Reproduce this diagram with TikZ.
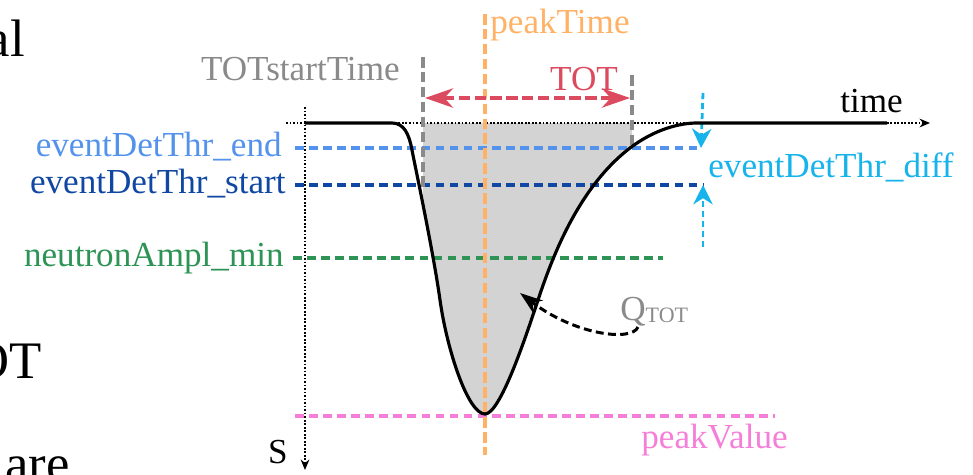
\documentclass[tikz,border=0pt]{standalone}
\usepackage{fontspec}
\setmainfont{Liberation Serif}
\usetikzlibrary{arrows.meta,positioning}

\definecolor{thrEndCol}{HTML}{5493EB}
\definecolor{thrStartCol}{HTML}{0F47A3}
\definecolor{amplCol}{HTML}{2E9455}
\definecolor{peakValCol}{HTML}{F57FD8}
\definecolor{peakTimeCol}{HTML}{FFB266}
\definecolor{totCol}{HTML}{DB4A5E}
\definecolor{markCol}{HTML}{8A8A8A}
\definecolor{diffCol}{HTML}{17B3EB}
\definecolor{areaCol}{HTML}{D3D3D3}

% the pulse, used for the area and for the line
\newcommand{\pulsepath}{(305,123) -- (392,123)
  .. controls (404,123) and (409,134) .. (412,150)
  .. controls (415,166) and (433,250) .. (440,300)
  .. controls (447,350) and (468,414) .. (485,414)
  .. controls (500,414) and (525,339) .. (537,303)
  .. controls (549,267) and (575,190) .. (630,148)
  .. controls (655,129) and (680,123) .. (697,123) -- (887,123)}

\begin{document}
\begin{tikzpicture}[x=0.02cm, y=-0.02cm,
    lbl/.style={font=\fontsize{20}{24}\selectfont, inner sep=0pt},
    bigtxt/.style={font=\fontsize{30}{36}\selectfont, inner sep=0pt},
    thr/.style={line width=1.9pt, dash pattern=on 5pt off 3pt},
    vmark/.style={line width=2pt, dash pattern=on 6pt off 2.5pt},
    axis/.style={line width=0.7pt, dash pattern=on 1pt off 1pt, -{Stealth[length=6pt, width=5pt, inset=2pt]}},
    pulse/.style={line width=1.8pt, line join=round},
    totarr/.style={totCol, line width=1.9pt, dash pattern=on 6.5pt off 2.5pt, {Stealth[length=16pt, width=11pt, inset=5pt]}-{Stealth[length=16pt, width=11pt, inset=5pt]}},
    diffarr/.style={diffCol, line width=1.6pt, dash pattern=on 3.5pt off 2.2pt, -{Stealth[length=11pt, width=11pt, inset=3.5pt]}},
    qarr/.style={line width=1.7pt, dash pattern=on 4.5pt off 2.5pt, -{Stealth[length=13pt, width=9pt, inset=4pt]}}]

    \useasboundingbox (0,0) rectangle (973,474);

    % pieces of the surrounding text
    \begin{scope}
        \clip (0,0) rectangle (973,474);
        \node [bigtxt, anchor=base east] (txtA) at (25,56) {al};
        \node [bigtxt, anchor=base east] (txtB) at (42,378) {OT};
        \node [bigtxt, anchor=base east] (txtC) at (70,481) {are};
    \end{scope}

    % area between the pulse and the baseline
    \begin{scope}
        \clip (423,123) rectangle (632,480);
        \fill [areaCol] \pulsepath -- cycle;
    \end{scope}

    % axes
    \coordinate (xStart) at (286,123);
    \coordinate (xEnd) at (930,123);
    \coordinate (yStart) at (305,107);
    \coordinate (yEnd) at (305,470);
    \draw [axis] (xStart) -- (xEnd);
    \draw [axis] (yStart) -- (yEnd);
    \node [lbl, anchor=base west] (timeLbl) at (840,112) {time};
    \node [lbl, anchor=base east] (sLbl) at (288,463) {S};

    % thresholds
    \coordinate (endL) at (295,148);   \coordinate (endR) at (701,148);
    \coordinate (startL) at (295,185); \coordinate (startR) at (703,185);
    \coordinate (amplL) at (293,258);  \coordinate (amplR) at (663,258);
    \coordinate (pvL) at (295,416);    \coordinate (pvR) at (775,416);
    \draw [thr, thrEndCol] (endL) -- (endR);
    \draw [thr, thrStartCol] (startL) -- (startR);
    \draw [thr, amplCol] (amplL) -- (amplR);
    \draw [thr, peakValCol] (pvL) -- (pvR);
    \node [lbl, thrEndCol, anchor=base east] (thrEnd) at (282,156) {eventDetThr\_end};
    \node [lbl, thrStartCol, anchor=base east] (thrStart) at (286,193) {eventDetThr\_start};
    \node [lbl, amplCol, anchor=base east] (amplMin) at (284,266) {neutronAmpl\_min};
    \node [lbl, peakValCol, anchor=base west] (peakVal) at (641,448) {peakValue};

    % peak time
    \coordinate (ptTop) at (485,14);
    \coordinate (ptBot) at (485,455);
    \draw [vmark, peakTimeCol, line width=2.2pt] (ptTop) -- (ptBot);
    \node [lbl, peakTimeCol, anchor=base west] (peakT) at (490,33) {peakTime};

    % time over threshold
    \coordinate (totAtop) at (423,57);  \coordinate (totAbot) at (423,190);
    \coordinate (totBtop) at (632,75);  \coordinate (totBbot) at (632,148);
    \draw [vmark, markCol] (totAtop) -- (totAbot);
    \draw [vmark, markCol] (totBtop) -- (totBbot);
    \node [lbl, markCol, anchor=base east] (totStart) at (400,80) {TOTstartTime};
    \coordinate (totL) at (425,98);
    \coordinate (totR) at (630,98);
    \draw [totarr] (totL) -- (totR);
    \node [lbl, totCol, anchor=base] (tot) at (584,90) {TOT};

    % threshold difference
    \coordinate (diffTop) at (703,93);
    \coordinate (diffBot) at (703,247);
    \draw [diffarr] (diffTop) -- (endR);
    \draw [diffarr] (diffBot) -- (startR);
    \node [lbl, diffCol, anchor=base west] (diff) at (708,177) {eventDetThr\_diff};

    % charge
    \node [lbl, markCol, anchor=base west] (qtot) at (620,320) {Q\raisebox{-1.5pt}{\fontsize{12.5}{14}\selectfont TOT}};
    \coordinate (qStart) at (638,327);
    \coordinate (qEnd) at (520,293);
    \draw [qarr] (qStart) .. controls (632,342) and (575,335) .. (qEnd);

    % pulse
    \draw [pulse] \pulsepath;
\end{tikzpicture}
\end{document}
